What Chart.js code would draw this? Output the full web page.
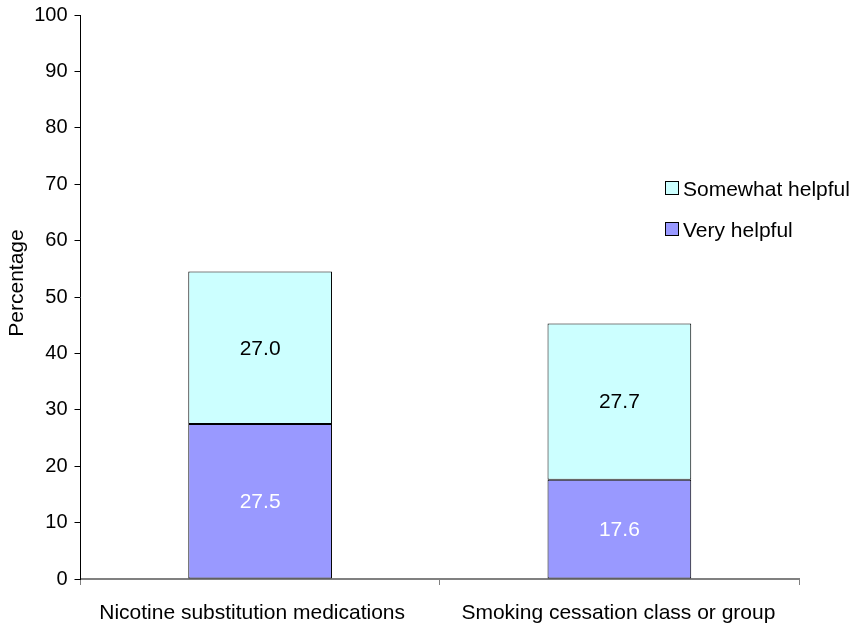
<!DOCTYPE html>
<html><head><meta charset="utf-8">
<script src="https://cdn.jsdelivr.net/npm/chart.js@4"></script>
<style>html,body{margin:0;padding:0;background:#fff;}#wrap{width:854px;height:625px;position:relative;}</style>
</head><body><div id="wrap"><canvas id="c"></canvas></div>
<script>
const categories = ["Nicotine substitution medications", "Smoking cessation class or group"];
const veryHelpful = [27.5, 17.6];
const somewhatHelpful = [27.0, 27.7];
const seriesNames = ["Very helpful", "Somewhat helpful"];
const yTicks = [0,10,20,30,40,50,60,70,80,90,100];
const yTitle = "Percentage";

const FONT = "'Liberation Sans', Arial, sans-serif";
const colors = {very:"#9999FF", some:"#CCFFFF"};

const extras = {
  id:'extras',
  afterDatasetsDraw(chart){
    const ctx = chart.ctx;
    ctx.save();
    ctx.font = "21px " + FONT;
    ctx.textAlign = "center"; ctx.textBaseline = "middle";
    chart.data.datasets.forEach((ds, di) => {
      const meta = chart.getDatasetMeta(di);
      meta.data.forEach((el, i) => {
        const mid = (el.y + el.base) / 2;
        ctx.fillStyle = di === 0 ? "#ffffff" : "#000000";
        ctx.fillText(ds.data[i].toFixed(1), el.x, mid + 1);
      });
    });
    // category labels
    const xs = chart.scales.x;
    const shift = [-8, -1];
    ctx.fillStyle = "#000";
    ctx.textBaseline = "alphabetic";
    chart.data.labels.forEach((lab, i) => {
      ctx.fillText(lab, xs.getPixelForTick(i) + shift[i], 619);
    });
    // legend
    ctx.textBaseline = "middle";
    const items = [{t:seriesNames[1], c:colors.some, y:188},{t:seriesNames[0], c:colors.very, y:229}];
    ctx.textAlign = "left";
    items.forEach(it => {
      ctx.fillStyle = it.c; ctx.fillRect(665.5, it.y-6.5, 13, 13);
      ctx.strokeStyle = "#000"; ctx.lineWidth = 1; ctx.strokeRect(665.5, it.y-6.5, 13, 13);
      ctx.fillStyle = "#000"; ctx.fillText(it.t, 683, it.y + 2);
    });
    // y title
    ctx.translate(17, 283); ctx.rotate(-Math.PI/2);
    ctx.textAlign = "center";
    ctx.fillText(yTitle, 0, 0);
    ctx.restore();
  }
};

new Chart(document.getElementById('c'), {
  type:'bar',
  data:{
    labels:categories,
    datasets:[
      {label:seriesNames[0], data:veryHelpful, backgroundColor:colors.very, borderColor:"#000", borderWidth:1, borderSkipped:false, barPercentage:0.4, categoryPercentage:1.0},
      {label:seriesNames[1], data:somewhatHelpful, backgroundColor:colors.some, borderColor:"#000", borderWidth:1, borderSkipped:false, barPercentage:0.4, categoryPercentage:1.0}
    ]
  },
  options:{
    responsive:true, maintainAspectRatio:false, animation:false,
    layout:{padding:{top:15, right:55, left:0, bottom:0}},
    plugins:{legend:{display:false}, tooltip:{enabled:false}},
    scales:{
      x:{stacked:true,
        grid:{display:true, drawOnChartArea:false, drawTicks:true, tickLength:6, color:"#808080", offset:true},
        border:{display:true, color:"#808080", width:2},
        ticks:{display:false},
        afterFit(s){ s.height = 46; s.paddingLeft = 0; s.paddingRight = 0; }
      },
      y:{stacked:true, min:0, max:100,
        afterBuildTicks(s){ s.ticks = yTicks.map(v=>({value:v})); },
        grid:{display:true, drawOnChartArea:false, drawTicks:true, tickLength:6, color:"#000"},
        border:{display:true, color:"#000", width:1},
        ticks:{font:{family:FONT, size:20}, color:"#000", padding:7},
        afterFit(s){ s.width = 80.5; s.paddingTop = 0; s.paddingBottom = 0; }
      }
    }
  },
  plugins:[extras]
});
</script></body></html>
